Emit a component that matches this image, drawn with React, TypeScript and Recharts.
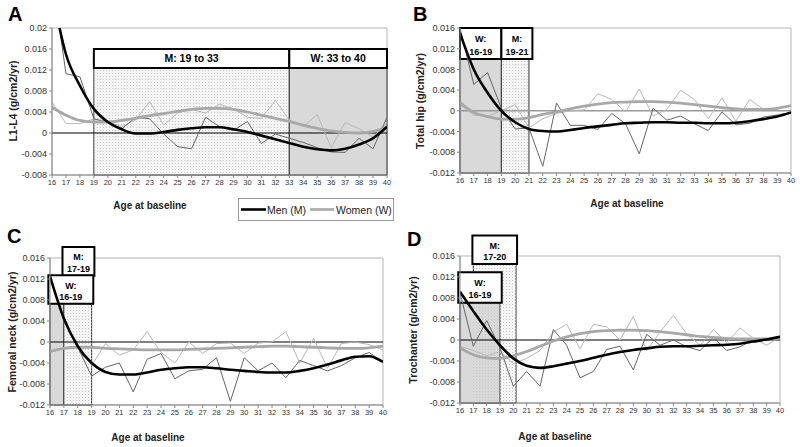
import React from 'react';
import { LineChart, Line, XAxis, YAxis, ReferenceArea, ReferenceLine } from 'recharts';

const AGES = [16, 17, 18, 19, 20, 21, 22, 23, 24, 25, 26, 27, 28, 29, 30, 31, 32, 33, 34, 35, 36, 37, 38, 39, 40];

const TICKS_A = [-0.008, -0.004, 0, 0.004, 0.008, 0.012, 0.016, 0.02];
const TICKS_BCD = [-0.012, -0.008, -0.004, 0, 0.004, 0.008, 0.012, 0.016];

// A: L1-L4
const A_MEN_RAW = [0.03, 0.0113, 0.0107, 0.0027, 0.002, 0.0008, 0.003, 0.0027, -0.0002, -0.0026, -0.003, 0.003, 0.0012, 0.0005, 0.0022, -0.002, -0.0002, -0.001, -0.0018, -0.0028, -0.0036, -0.0037, -0.001, -0.003, 0.003];
const A_MEN_FIT = [0.027, 0.015, 0.009, 0.0046, 0.0021, 0.0007, -0.0001, -0.0001, 0.0002, 0.0006, 0.0009, 0.0011, 0.0011, 0.0007, 0.0002, -0.0005, -0.0012, -0.0019, -0.0026, -0.0031, -0.0033, -0.003, -0.0022, -0.001, 0.0012];
const A_WOMEN_RAW = [0.0059, 0.0018, 0.0018, 0.0027, 0.0022, 0.0012, 0.0025, 0.006, 0.0015, 0.0038, 0.0045, 0.0038, 0.0055, 0.0046, 0.003, 0.0028, 0.0062, 0.0025, 0.0012, 0.0035, -0.0028, 0.002, 0.0008, -0.0008, 0.002];
const A_WOMEN_FIT = [0.0049, 0.0034, 0.0024, 0.0021, 0.0021, 0.0024, 0.0028, 0.0033, 0.0037, 0.0041, 0.0045, 0.0047, 0.0047, 0.0045, 0.004, 0.0034, 0.0028, 0.0022, 0.0015, 0.0009, 0.0004, 0.0001, 0, 0.0003, 0.0012];

// B: total hip
const B_MEN_RAW = [0.016, 0.0051, 0.0074, 0.0005, -0.0035, -0.0033, -0.0107, 0.0015, -0.0028, -0.0028, -0.0036, -0.0005, -0.0025, -0.0083, 0.0005, -0.0018, -0.001, -0.0025, -0.0038, -0.0002, -0.0027, -0.0024, -0.0012, -0.0008, -0.0003];
const B_MEN_FIT = [0.015, 0.008, 0.0035, 0, -0.0022, -0.0035, -0.0039, -0.004, -0.0037, -0.0033, -0.003, -0.0027, -0.0024, -0.0023, -0.0022, -0.0022, -0.0023, -0.0023, -0.0024, -0.0024, -0.0023, -0.002, -0.0016, -0.0011, -0.0003];
const B_WOMEN_RAW = [0.0012, -0.0008, -0.001, 0, 0.0012, -0.0033, -0.0015, -0.0005, 0, 0.0002, 0.0033, 0.0022, -0.0002, 0.0042, -0.001, 0.0003, 0.004, 0.0022, -0.0015, 0.0025, -0.002, 0.0022, 0.0003, 0.0005, 0.001];
const B_WOMEN_FIT = [0.0016, -0.0003, -0.0011, -0.0016, -0.0016, -0.0013, -0.0007, -0.0002, 0.0004, 0.0009, 0.0013, 0.0016, 0.0017, 0.0018, 0.0018, 0.0017, 0.0015, 0.0012, 0.0009, 0.0006, 0.0004, 0.0003, 0.0003, 0.0005, 0.001];

// C: femoral neck
const C_MEN_RAW = [0.0123, 0.004, -0.001, -0.0065, -0.0048, -0.004, -0.0095, -0.0033, -0.0022, -0.007, -0.0055, -0.0052, -0.003, -0.0113, -0.003, -0.0055, -0.004, -0.0068, -0.0035, -0.0045, -0.0055, -0.0045, -0.003, -0.002, -0.0038];
const C_MEN_FIT = [0.0125, 0.0045, -0.0008, -0.004, -0.0057, -0.0062, -0.0062, -0.0058, -0.0053, -0.005, -0.0048, -0.0048, -0.005, -0.0053, -0.0055, -0.0057, -0.0058, -0.0058, -0.0055, -0.005, -0.0043, -0.0035, -0.0028, -0.0027, -0.0038];
const C_WOMEN_RAW = [-0.002, -0.0012, -0.001, -0.0045, -0.0003, -0.0025, -0.0015, 0.002, -0.002, -0.004, 0, -0.0022, -0.0003, -0.0002, -0.0022, -0.0002, 0, 0.002, -0.004, 0.0007, -0.005, -0.0003, 0, -0.0005, -0.0015];
const C_WOMEN_FIT = [-0.0018, -0.0012, -0.001, -0.001, -0.0012, -0.0013, -0.0014, -0.0015, -0.0015, -0.0015, -0.0014, -0.0013, -0.0012, -0.0011, -0.001, -0.0009, -0.0008, -0.0008, -0.0009, -0.001, -0.0011, -0.0012, -0.0012, -0.0011, -0.0008];

// D: trochanter
const D_MEN_RAW = [0.009, -0.0012, 0.0037, -0.0015, -0.0088, -0.006, -0.0088, 0.002, -0.001, -0.0072, -0.006, -0.0018, -0.0012, -0.0057, 0.0011, -0.001, 0, -0.0013, -0.002, 0.0005, -0.002, -0.0013, 0, 0, 0.0006];
const D_MEN_FIT = [0.0092, 0.0055, 0.002, -0.001, -0.0035, -0.0049, -0.0053, -0.005, -0.0045, -0.004, -0.0034, -0.0028, -0.0023, -0.0019, -0.0016, -0.0013, -0.0012, -0.0012, -0.0011, -0.001, -0.0009, -0.0007, -0.0003, 0.0001, 0.0006];
const D_WOMEN_RAW = [-0.0012, -0.002, -0.003, -0.0022, -0.0045, -0.0035, -0.002, 0.0015, 0.003, -0.0017, 0.003, 0.0025, 0, 0.0045, -0.002, 0.0015, 0.0047, 0.0012, -0.001, 0.002, -0.0005, 0.0023, 0.0003, -0.001, 0.0005];
const D_WOMEN_FIT = [-0.0015, -0.0028, -0.0034, -0.0035, -0.003, -0.0022, -0.0012, -0.0002, 0.0006, 0.0012, 0.0016, 0.0018, 0.0019, 0.0019, 0.0018, 0.0016, 0.0013, 0.001, 0.0007, 0.0005, 0.0003, 0.0002, 0.0002, 0.0002, 0.0003];

const FONT = '"Liberation Sans", Arial, sans-serif';

type Region = { x1: number; x2: number; y1: number; y2: number; kind: 'light' | 'dark' | 'dots' };
type Box = { x1: number; x2: number; y1: number; y2: number; lines: string[]; size: number };

type Panel = {
  key: string;
  left: number;
  top: number;
  width: number;
  height: number;
  yWidth: number;
  margin: { top: number; right: number; bottom: number; left: number };
  xHeight: number;
  ticks: number[];
  zeroColor: string;
  regions: Region[];
  boxes: Box[];
  series: { menRaw: number[]; menFit: number[]; womenRaw: number[]; womenFit: number[] };
};

const PANELS: Panel[] = [
  {
    key: 'A', left: 0, top: 0, width: 400, height: 222, yWidth: 52,
    margin: { top: 28, right: 13, bottom: 0, left: 0 }, xHeight: 47,
    ticks: TICKS_A, zeroColor: '#000',
    regions: [
      { x1: 19, x2: 33, y1: -0.008, y2: 0.0124, kind: 'light' },
      { x1: 19, x2: 33, y1: -0.008, y2: 0.0124, kind: 'dots' },
      { x1: 33, x2: 40, y1: -0.008, y2: 0.0124, kind: 'dark' },
    ],
    boxes: [
      { x1: 19, x2: 33, y1: 0.0124, y2: 0.016, lines: ['M: 19 to 33'], size: 10.5 },
      { x1: 33, x2: 40, y1: 0.0124, y2: 0.016, lines: ['W: 33 to 40'], size: 10.5 },
    ],
    series: { menRaw: A_MEN_RAW, menFit: A_MEN_FIT, womenRaw: A_WOMEN_RAW, womenFit: A_WOMEN_FIT },
  },
  {
    key: 'B', left: 400, top: 0, width: 400, height: 222, yWidth: 60,
    margin: { top: 28, right: 9, bottom: 0, left: 0 }, xHeight: 49,
    ticks: TICKS_BCD, zeroColor: '#999',
    regions: [
      { x1: 16, x2: 19, y1: -0.012, y2: 0.01, kind: 'dark' },
      { x1: 19, x2: 21, y1: -0.012, y2: 0.01, kind: 'light' },
      { x1: 19, x2: 21, y1: -0.012, y2: 0.01, kind: 'dots' },
    ],
    boxes: [
      { x1: 16, x2: 19, y1: 0.01, y2: 0.016, lines: ['W:', '16-19'], size: 9 },
      { x1: 19, x2: 21.25, y1: 0.01, y2: 0.016, lines: ['M:', '19-21'], size: 9 },
    ],
    series: { menRaw: B_MEN_RAW, menFit: B_MEN_FIT, womenRaw: B_WOMEN_RAW, womenFit: B_WOMEN_FIT },
  },
  {
    key: 'C', left: 0, top: 222, width: 400, height: 225, yWidth: 50,
    margin: { top: 36, right: 17, bottom: 0, left: 0 }, xHeight: 42,
    ticks: TICKS_BCD, zeroColor: '#000',
    regions: [
      { x1: 16, x2: 17, y1: -0.012, y2: 0.0073, kind: 'dark' },
      { x1: 17, x2: 19, y1: -0.012, y2: 0.0073, kind: 'light' },
      { x1: 17, x2: 19, y1: -0.012, y2: 0.0073, kind: 'dots' },
    ],
    boxes: [
      { x1: 16.9, x2: 19.2, y1: 0.0126, y2: 0.0181, lines: ['M:', '17-19'], size: 9 },
      { x1: 15.88, x2: 19.12, y1: 0.0073, y2: 0.0127, lines: ['W:', '16-19'], size: 9 },
    ],
    series: { menRaw: C_MEN_RAW, menFit: C_MEN_FIT, womenRaw: C_WOMEN_RAW, womenFit: C_WOMEN_FIT },
  },
  {
    key: 'D', left: 400, top: 222, width: 400, height: 225, yWidth: 60,
    margin: { top: 34, right: 20, bottom: 0, left: 0 }, xHeight: 44,
    ticks: TICKS_BCD, zeroColor: '#000',
    regions: [
      { x1: 17, x2: 20.2, y1: -0.012, y2: 0.0145, kind: 'light' },
      { x1: 16, x2: 19, y1: -0.012, y2: 0.0071, kind: 'dark' },
      { x1: 17, x2: 20.2, y1: -0.012, y2: 0.0145, kind: 'dots' },
    ],
    boxes: [
      { x1: 16.93, x2: 20.28, y1: 0.0145, y2: 0.0199, lines: ['M:', '17-20'], size: 9 },
      { x1: 15.87, x2: 19.13, y1: 0.0071, y2: 0.0129, lines: ['W:', '16-19'], size: 9 },
    ],
    series: { menRaw: D_MEN_RAW, menFit: D_MEN_FIT, womenRaw: D_WOMEN_RAW, womenFit: D_WOMEN_FIT },
  },
];

const regionFill = { light: '#f5f5f5', dark: '#d9d9d9', dots: 'url(#dotFill)' };

const boxLabel = (lines: string[], size: number) => (props: any) => {
  const vb = props.viewBox || {};
  const cx = vb.x + vb.width / 2;
  if (lines.length === 1) {
    return (
      <text x={cx} y={vb.y + vb.height / 2} textAnchor="middle" dominantBaseline="central"
        fontFamily={FONT} fontWeight="bold" fontSize={size} fill="#000">{lines[0]}</text>
    );
  }
  return (
    <g>
      <text x={cx} y={vb.y + vb.height * 0.36} textAnchor="middle" dominantBaseline="central"
        fontFamily={FONT} fontWeight="bold" fontSize={size} fill="#000">{lines[0]}</text>
      <text x={cx} y={vb.y + vb.height * 0.76} textAnchor="middle" dominantBaseline="central"
        fontFamily={FONT} fontWeight="bold" fontSize={size} fill="#000">{lines[1]}</text>
    </g>
  );
};

function PanelChart({ p }: { p: Panel }) {
  const data = AGES.map((age, i) => ({
    age,
    menRaw: p.series.menRaw[i],
    menFit: p.series.menFit[i],
    womenRaw: p.series.womenRaw[i],
    womenFit: p.series.womenFit[i],
  }));
  const yMin = p.ticks[0];
  const yMax = p.ticks[p.ticks.length - 1];
  return (
    <div style={{ position: 'absolute', left: p.left, top: p.top }}>
      <LineChart width={p.width} height={p.height} data={data} margin={p.margin}>
        <XAxis dataKey="age" type="number" domain={[16, 40]} ticks={AGES} interval={0}
          height={p.xHeight} tickSize={3} axisLine={{ stroke: '#888' }} tickLine={{ stroke: '#888' }}
          tick={{ fontSize: 7.5, fill: '#333', fontFamily: FONT }} allowDataOverflow />
        <YAxis type="number" domain={[yMin, yMax]} ticks={p.ticks} width={p.yWidth} interval={0}
          tickSize={3} axisLine={{ stroke: '#888' }} tickLine={{ stroke: '#888' }}
          tick={{ fontSize: 9, fill: '#333', fontFamily: FONT }} allowDataOverflow
          tickFormatter={(v: number) => String(v)} />
        <ReferenceArea x1={16} x2={40} y1={yMin} y2={yMax} fill="none" fillOpacity={0} stroke="#b5b5b5" strokeWidth={1} />
        {p.regions.map((r, i) => (
          <ReferenceArea key={'r' + i} x1={r.x1} x2={r.x2} y1={r.y1} y2={r.y2}
            fill={regionFill[r.kind]} fillOpacity={1}
            stroke={r.kind === 'dots' ? 'none' : '#333'} strokeWidth={1} ifOverflow="visible" />
        ))}
        {p.boxes.map((b, i) => (
          <ReferenceArea key={'b' + i} x1={b.x1} x2={b.x2} y1={b.y1} y2={b.y2}
            fill="#fff" fillOpacity={1} stroke="#000" strokeWidth={2} ifOverflow="visible"
            label={boxLabel(b.lines, b.size)} />
        ))}
        <ReferenceLine y={0} stroke={p.zeroColor} strokeWidth={p.zeroColor === '#000' ? 1 : 1.5} />
        <Line type="linear" dataKey="womenRaw" stroke="#b8b8b8" strokeWidth={1} dot={false} isAnimationActive={false} />
        <Line type="linear" dataKey="menRaw" stroke="#666" strokeWidth={1} dot={false} isAnimationActive={false} />
        <Line type="monotone" dataKey="womenFit" stroke="#a8a8a8" strokeWidth={2.8} dot={false} isAnimationActive={false} />
        <Line type="monotone" dataKey="menFit" stroke="#000" strokeWidth={2.6} dot={false} isAnimationActive={false} />
      </LineChart>
    </div>
  );
}

const LETTERS = [
  { t: 'A', x: 8, y: 21 },
  { t: 'B', x: 413, y: 21 },
  { t: 'C', x: 7, y: 243 },
  { t: 'D', x: 407, y: 246 },
];

const Y_TITLES = [
  { t: 'L1-L4 (g/cm2/yr)', x: 13, y: 101 },
  { t: 'Total hip (g/cm2/yr)', x: 420, y: 101 },
  { t: 'Femoral neck (g/cm2/yr)', x: 12, y: 332 },
  { t: 'Trochanter (g/cm2/yr)', x: 413, y: 330 },
];

const X_TITLES = [
  { x: 150, y: 209 },
  { x: 627, y: 207 },
  { x: 148, y: 441 },
  { x: 555, y: 440 },
];

export default function App() {
  return (
    <div style={{ position: 'absolute', left: 0, top: 0, width: 800, height: 447, background: '#fff', overflow: 'hidden' }}>
      <svg width={800} height={447} style={{ position: 'absolute', left: 0, top: 0, pointerEvents: 'none' }}>
        <defs>
          <pattern id="dotFill" width="3" height="3" patternUnits="userSpaceOnUse">
            <rect x="1" y="1" width="1" height="1" fill="#c6c6c6" />
          </pattern>
        </defs>
      </svg>
      {PANELS.map((p) => <PanelChart key={p.key} p={p} />)}
      <svg width={800} height={447} style={{ position: 'absolute', left: 0, top: 0, pointerEvents: 'none' }}>
        {LETTERS.map((l) => (
          <text key={l.t} x={l.x} y={l.y} fontFamily={FONT} fontWeight="bold" fontSize={20} fill="#000">{l.t}</text>
        ))}
        {Y_TITLES.map((t) => (
          <text key={t.t} x={t.x} y={t.y} transform={`rotate(-90 ${t.x} ${t.y})`} textAnchor="middle"
            dominantBaseline="central" fontFamily={FONT} fontWeight="bold" fontSize={10.5} fill="#222">{t.t}</text>
        ))}
        {X_TITLES.map((t, i) => (
          <text key={i} x={t.x} y={t.y} textAnchor="middle" fontFamily={FONT} fontWeight="bold" fontSize={10} fill="#222">Age at baseline</text>
        ))}
        <rect x={238.5} y={198.5} width={155} height={22} fill="#fff" stroke="#999" />
        <line x1={241} x2={266} y1={209.5} y2={209.5} stroke="#000" strokeWidth={2.6} />
        <text x={267} y={213.5} fontFamily={FONT} fontSize={10.5} fill="#222">Men (M)</text>
        <line x1={310} x2={334} y1={209.5} y2={209.5} stroke="#a8a8a8" strokeWidth={2.6} />
        <text x={336} y={213.5} fontFamily={FONT} fontSize={10.5} fill="#222">Women (W)</text>
      </svg>
    </div>
  );
}
